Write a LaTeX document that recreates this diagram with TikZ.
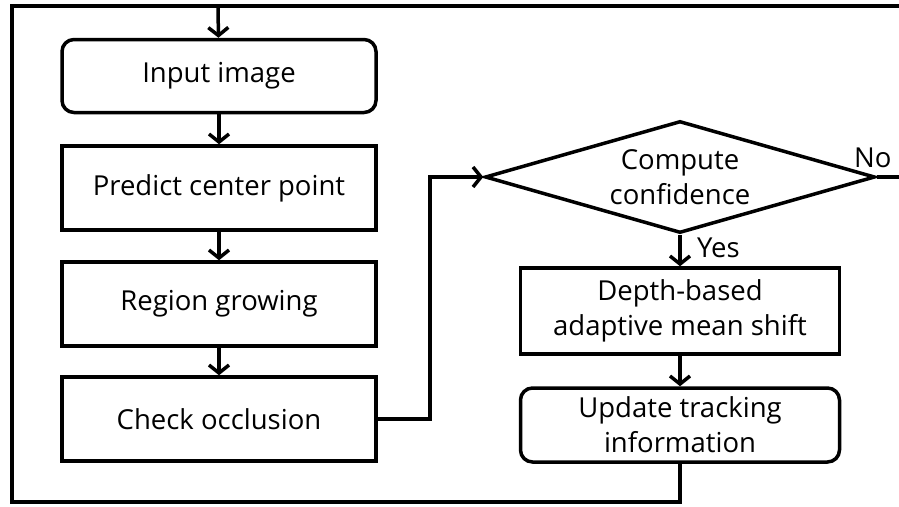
\documentclass[tikz,border=0pt]{standalone}
\usepackage{fontspec}
\setmainfont{Open Sans}
\usetikzlibrary{shapes.geometric,arrows.meta}
\begin{document}
\begin{tikzpicture}[x=1pt,y=-1pt,line width=3.5pt,
  font=\fontsize{27.5}{35}\selectfont,
  arr/.style={-{Straight Barb[length=8pt,width=20pt,line width=3.5pt]}},
  stepbox/.style={draw,minimum width=314pt,minimum height=84pt,inner sep=0pt},
  roundbox/.style={stepbox,rounded corners=12pt},
  decision/.style={draw,diamond,minimum width=390pt,minimum height=112pt,inner sep=0pt}]
  \useasboundingbox (0,0) rectangle (899,506);
  % left column
  \node[roundbox,minimum height=73pt] (input) at (219,76) {Input image};
  \node[stepbox] (predict) at (219,188) {Predict center point};
  \node[stepbox] (region) at (219,304) {Region growing};
  \node[stepbox] (check) at (219,419) {Check occlusion};
  % right column
  \node[decision,label={[align=center]center:Compute\\confidence}] (conf) at (680,177) {};
  \node[stepbox,minimum width=319pt,minimum height=86pt,align=center] (depth) at (680,311) {Depth-based\\adaptive mean shift};
  \node[roundbox,minimum width=319pt,minimum height=74pt,align=center] (update) at (680,425) {Update tracking\\information};
  % frame
  \coordinate (top) at (218,6);
  \coordinate (topright) at (899,6);
  \coordinate (bottomleft) at (12,502);
  \coordinate (turn) at (430,300);
  \coordinate (noend) at (899,177);
  \draw[arr] (top) -- (input);
  \draw[arr] (input) -- (predict);
  \draw[arr] (predict) -- (region);
  \draw[arr] (region) -- (check);
  \draw[arr] (check.east) -| (turn) |- (conf.west);
  \draw[arr] (conf.south) -- (depth) node[pos=0,anchor=north west,xshift=12pt,yshift=2pt]{Yes};
  \draw[arr] (depth) -- (update);
  \draw (conf.east) -- (noend) node[pos=0,anchor=south,xshift=-4pt,yshift=4pt]{No};
  \draw (update.south) |- (bottomleft) |- (topright);
\end{tikzpicture}
\end{document}
